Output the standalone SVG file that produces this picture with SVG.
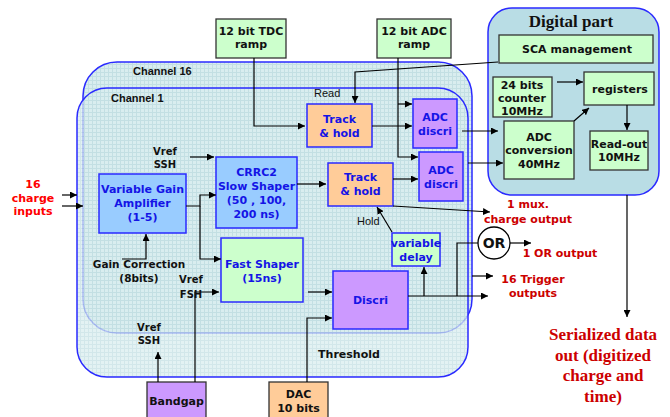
<svg xmlns="http://www.w3.org/2000/svg" width="670" height="417" viewBox="0 0 670 417">
<defs>
<pattern id="grid" width="4" height="4" patternUnits="userSpaceOnUse">
<rect width="4" height="4" fill="#d9edef"/>
<path d="M0,0.5H4M0.5,0V4" stroke="#c3dfe3" stroke-width="1"/>
</pattern>
<marker id="ah" viewBox="0 0 10 10" refX="10" refY="5" markerWidth="7" markerHeight="7" markerUnits="userSpaceOnUse" orient="auto">
<path d="M0,0L10,5L0,10z" fill="#000"/>
</marker>
</defs>
<style>
.b{font-family:"DejaVu Sans",Verdana,sans-serif;font-weight:bold;font-size:11px;text-anchor:middle}
.blue{fill:#1414e6}
.blk{fill:#111}
.red{fill:#cc0000}
.s{font-size:10px}
.a{font-family:"Liberation Sans",Arial,sans-serif;font-size:11px}
.ser{font-family:"Liberation Serif","Times New Roman",serif;font-weight:bold;font-size:17px;text-anchor:middle}
.bx{stroke:#2a2aff;stroke-width:1.5}
.dk{stroke:#333;stroke-width:1.3}
.g{fill:#ccffcc}.p{fill:#ffcc99}.v{fill:#cc99ff}.lb{fill:#99ccff}
.c{fill:none;stroke:#000;stroke-width:1.2}
</style>
<rect width="670" height="417" fill="#fff"/>
<g id="channel16">
<rect x="83" y="62" width="389" height="271" rx="34" fill="url(#grid)" stroke="#2a2aff" stroke-width="1.5"/>
<text x="133" y="75" class="a" style="font-weight:bold" fill="#111">Channel 16</text>
</g>
<g id="channel1">
<rect x="77" y="88" width="391" height="289" rx="30" fill="url(#grid)" fill-opacity="0.75" stroke="#2a2aff" stroke-width="1.5"/>
<text x="111" y="102" class="a" style="font-weight:bold" fill="#111">Channel 1</text>
</g>
<g id="digital">
<rect x="488" y="8" width="171" height="187" rx="24" fill="#b9dde5" stroke="#2a2aff" stroke-width="1.5"/>
<text x="571" y="27" class="ser" fill="#111">Digital part</text>
</g>
<g id="tdc"><rect x="216" y="19" width="70" height="39" class="g dk"/><text class="b blk" x="251" y="35">12 bit TDC</text><text class="b blk" x="251" y="48">ramp</text></g>
<g id="adcramp"><rect x="377" y="19" width="74" height="39" class="g dk"/><text class="b blk" x="414" y="35">12 bit ADC</text><text class="b blk" x="414" y="48">ramp</text></g>
<g id="sca"><rect x="499" y="35" width="154" height="28" class="g dk"/><text class="b blk" x="577" y="53">SCA management</text></g>
<g id="counter"><rect x="493" y="77" width="59" height="40" class="g dk"/><text class="b blk" x="522" y="89">24 bits</text><text class="b blk" x="522" y="102">counter</text><text class="b blk" x="522" y="115">10MHz</text></g>
<g id="registers"><rect x="584" y="72" width="70" height="33" class="g dk"/><text class="b blk" x="620" y="93">registers</text></g>
<g id="adcconv"><rect x="504" y="121" width="70" height="58" class="g dk"/><text class="b blk" x="539" y="141">ADC</text><text class="b blk" x="539" y="154">conversion</text><text class="b blk" x="539" y="168">40MHz</text></g>
<g id="readout"><rect x="590" y="131" width="58" height="39" class="g dk"/><text class="b blk" x="619" y="148">Read-out</text><text class="b blk" x="619" y="161">10MHz</text></g>
<g id="th1"><rect x="307" y="104" width="65" height="43" class="p bx"/><text class="b blue" x="339.5" y="123">Track</text><text class="b blue" x="339.5" y="137">&amp; hold</text></g>
<g id="adcd1"><rect x="413" y="99" width="44" height="49" class="v bx"/><text class="b blue" x="435" y="121">ADC</text><text class="b blue" x="435" y="135">discri</text></g>
<g id="th2"><rect x="328" y="163" width="65" height="43" class="p bx"/><text class="b blue" x="360.5" y="181">Track</text><text class="b blue" x="360.5" y="195">&amp; hold</text></g>
<g id="adcd2"><rect x="419" y="152" width="44" height="49" class="v bx"/><text class="b blue" x="441" y="174">ADC</text><text class="b blue" x="441" y="188">discri</text></g>
<g id="vga"><rect x="99" y="174" width="87" height="59" class="lb bx"/><text class="b blue" x="142.5" y="193">Variable Gain</text><text class="b blue" x="142.5" y="207">Amplifier</text><text class="b blue" x="142.5" y="221">(1-5)</text></g>
<g id="slow"><rect x="216" y="157" width="81" height="71" class="lb bx"/><text class="b blue" x="256.5" y="176">CRRC2</text><text class="b blue" x="256.5" y="190">Slow Shaper</text><text class="b blue" x="256.5" y="204">(50 , 100,</text><text class="b blue" x="256.5" y="218">200 ns)</text></g>
<g id="fast"><rect x="221" y="238" width="82" height="64" class="g bx"/><text class="b blue" x="262" y="268">Fast Shaper</text><text class="b blue" x="262" y="282">(15ns)</text></g>
<g id="delay"><rect x="392" y="233" width="48" height="33" class="g bx"/><text class="b blue" x="416" y="247">variable</text><text class="b blue" x="416" y="261">delay</text></g>
<g id="discri"><rect x="333" y="271" width="75" height="58" class="v bx"/><text class="b blue" x="370.5" y="304">Discri</text></g>
<g id="or"><circle cx="494" cy="243" r="16" fill="#fff" stroke="#000" stroke-width="1.3"/><text class="b blk" x="494" y="248" style="font-size:14px">OR</text></g>
<g id="bandgap"><rect x="147" y="382" width="59" height="40" class="v dk"/><text class="b blk" x="176.5" y="405">Bandgap</text></g>
<g id="dac"><rect x="269" y="382" width="59" height="40" class="p dk"/><text class="b blk" x="298.5" y="398">DAC</text><text class="b blk" x="298.5" y="412">10 bits</text></g>
<g id="connectors">
<path class="c" marker-end="url(#ah)" d="M254,58V126H305"/>
<path class="c" marker-end="url(#ah)" d="M398,58V157H418"/>
<path class="c" marker-end="url(#ah)" d="M398,104H412"/>
<path class="c" marker-end="url(#ah)" d="M498,62L355,72V103"/>
<path class="c" marker-end="url(#ah)" d="M372,126H412"/>
<path class="c" marker-end="url(#ah)" d="M462,131H498"/>
<path class="c" marker-end="url(#ah)" d="M468,163H503"/>
<path class="c" marker-end="url(#ah)" d="M557,82H583"/>
<path class="c" marker-end="url(#ah)" d="M574,121L589,108"/>
<path class="c" marker-end="url(#ah)" d="M627,105V130"/>
<path class="c" marker-end="url(#ah)" d="M627,195V317"/>
<path class="c" marker-end="url(#ah)" d="M62,195H77"/>
<path class="c" marker-end="url(#ah)" d="M62,206H83"/>
<path class="c" marker-end="url(#ah)" d="M186,206H200V195H216"/>
<path class="c" marker-end="url(#ah)" d="M200,206V259H221"/>
<path class="c" marker-end="url(#ah)" d="M190,157H214"/>
<path class="c" marker-end="url(#ah)" d="M122,259H146V234"/>
<path class="c" marker-end="url(#ah)" d="M297,184H326"/>
<path class="c" marker-end="url(#ah)" d="M393,179H418"/>
<path class="c" marker-end="url(#ah)" d="M393,206L490,212"/>
<path class="c" marker-end="url(#ah)" d="M392,232L377,207"/>
<path class="c" marker-end="url(#ah)" d="M308,292H332"/>
<path class="c" marker-end="url(#ah)" d="M195,382V292H219"/>
<path class="c" marker-end="url(#ah)" d="M158,382V352"/>
<path class="c" marker-end="url(#ah)" d="M307,382V318H332"/>
<path class="c" marker-end="url(#ah)" d="M408,296H488"/>
<path class="c" marker-end="url(#ah)" d="M424,296V267"/>
<path class="c" d="M457,296V243H478"/>
<path class="c" marker-end="url(#ah)" d="M510,243H531"/>
<path class="c" marker-end="url(#ah)" d="M472,276H493"/>
</g>
<g id="labels">
<text class="a" x="314" y="97" fill="#111">Read</text>
<text class="a" x="357" y="225" fill="#111">Hold</text>
<text class="b blk s" x="165" y="155">Vref</text><text class="b blk s" x="165" y="168">SSH</text>
<text class="b blk s" x="191" y="283">Vref</text><text class="b blk s" x="191" y="298">FSH</text>
<text class="b blk s" x="149" y="331">Vref</text><text class="b blk s" x="149" y="344">SSH</text>
<text class="b blk" x="139" y="268" style="font-size:10.5px">Gain Correction</text>
<text class="b blk" x="139" y="282" style="font-size:10.5px">(8bits)</text>
<text class="b blk" x="349" y="358">Threshold</text>
<text class="b" fill="#ff0000" x="33" y="188">16</text>
<text class="b" fill="#ff0000" x="33" y="202">charge</text>
<text class="b" fill="#ff0000" x="33" y="215">inputs</text>
<text class="b red" x="528" y="208">1 mux.</text>
<text class="b red" x="528" y="223">charge output</text>
<text class="b red" x="560" y="257">1 OR output</text>
<text class="b red" x="533" y="283">16 Trigger</text>
<text class="b red" x="533" y="297">outputs</text>
<text class="ser red" x="603" y="340">Serialized data</text>
<text class="ser red" x="603" y="361">out (digitized</text>
<text class="ser red" x="603" y="381">charge and</text>
<text class="ser red" x="603" y="402">time)</text>
</g>
</svg>
